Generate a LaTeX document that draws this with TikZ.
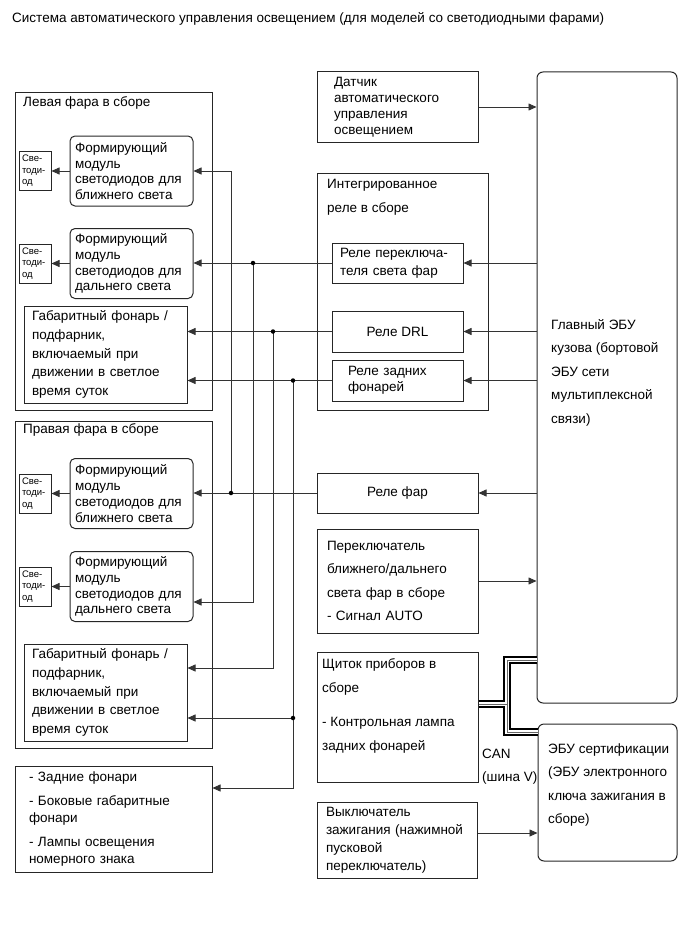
\documentclass[tikz,border=0pt]{standalone}
\usepackage{fontspec}
\setmainfont{Liberation Sans}
\usetikzlibrary{arrows.meta}

\begin{document}
\begin{tikzpicture}[x=1pt,y=-1pt,
  box/.style={draw=black!85,line width=1pt,inner sep=0pt,align=left,font=\fontsize{13.5}{16}\selectfont},
  mod/.style={box,rounded corners=5pt,minimum width=123pt,minimum height=70pt,text width=113pt,font=\fontsize{13.5}{15.8}\selectfont},
  led/.style={box,minimum width=32pt,minimum height=39pt,text width=26pt,font=\fontsize{9.5}{11.5}\selectfont},
  side/.style={box,minimum width=163pt,minimum height=97pt,text width=147pt,font=\fontsize{13.5}{18.7}\selectfont},
  ecu/.style={box,rounded corners=6pt},
  lab/.style={inner sep=0pt,anchor=base west,font=\fontsize{13.5}{16}\selectfont},
  wire/.style={draw=black!80,line width=0.75pt},
  arr/.style={wire,-{Triangle[length=8pt,width=7pt]}},
  jdot/.style={circle,fill=black,inner sep=0pt,minimum size=4.5pt}]
  \useasboundingbox (0,0) rectangle (689,950);
  \node[lab] (title) at (12,23) {Система автоматического управления освещением (для моделей со светодиодными фарами)};
  % ---------- headlamp assemblies ----------
  \node[box,minimum width=197pt,minimum height=318pt] (lhl) at (113.5,251) {};
  \node[lab] (lhlt) at (23,106) {Левая фара в сборе};
  \node[box,minimum width=197pt,minimum height=327pt] (rhl) at (113.5,584.5) {};
  \node[lab] (rhlt) at (23,433) {Правая фара в сборе};
  \foreach \n/\y/\beam in {1/171/ближнего, 2/263.5/дальнего, 3/493.5/ближнего, 4/586.5/дальнего} {
    \node[mod] (mod\n) at (131.5,\y) {Формирующий\\модуль\\светодиодов для\\\beam\ света};
    \node[led] (led\n) at (35,\y) {Све-\\тоди-\\од};
    \draw[arr] (mod\n.west) -- (led\n.east);
  }
  \node[side] (gab1) at (105.5,354.5) {Габаритный фонарь /\\подфарник,\\включаемый при\\движении в светлое\\время суток};
  \node[side] (gab2) at (105.5,692.5) {Габаритный фонарь /\\подфарник,\\включаемый при\\движении в светлое\\время суток};
  \node[box,minimum width=197pt,minimum height=106pt,text width=169pt,font=\fontsize{13.5}{17}\selectfont] (rear) at (113.5,819)
    {- Задние фонари\\[7pt]- Боковые габаритные\\фонари\\[7pt]- Лампы освещения\\номерного знака};
  % ---------- sensor, relays, switches ----------
  \node[box,minimum width=161pt,minimum height=70pt,text width=127pt] (sensor) at (397.5,107) {Датчик\\автоматического\\управления\\освещением};
  \node[box,minimum width=171pt,minimum height=237pt] (integ) at (402.5,291.5) {};
  \node[lab] (integt1) at (327,188) {Интегрированное};
  \node[lab] (integt2) at (327,212) {реле в сборе};
  \node[box,minimum width=131pt,minimum height=40pt,text width=115pt,font=\fontsize{13.5}{18}\selectfont] (relsw) at (397.5,263) {Реле переключа-\\теля света фар};
  \node[box,minimum width=131pt,minimum height=41pt,align=center] (drl) at (397.5,331.5) {Реле DRL};
  \node[box,minimum width=131pt,minimum height=41pt,text width=99pt] (tail) at (397.5,380.5) {Реле задних\\фонарей};
  \node[box,minimum width=161pt,minimum height=40pt,align=center] (hlrel) at (397.5,493) {Реле фар};
  \node[box,minimum width=161pt,minimum height=104pt,text width=141pt,font=\fontsize{13.5}{23.3}\selectfont] (dimmer) at (397.5,581)
    {Переключатель\\ближнего/дальнего\\света фар в сборе\\- Сигнал AUTO};
  \node[box,minimum width=161pt,minimum height=130pt] (meter) at (397.5,717) {};
  \foreach \t/\y [count=\i] in {{Щиток приборов в}/668.6, {сборе}/692, {- Контрольная лампа}/726.6, {задних фонарей}/750}
    \node[lab] (metert\i) at (322,\y) {\t};
  \node[box,minimum width=160pt,minimum height=76pt,text width=142pt,font=\fontsize{13.5}{18}\selectfont] (ign) at (397,840)
    {Выключатель\\зажигания (нажимной\\пусковой\\переключатель)};
  % ---------- ECUs ----------
  \node[ecu,minimum width=140pt,minimum height=631pt] (main) at (607,387.5) {};
  \foreach \t [count=\i] in {{Главный ЭБУ},{кузова (бортовой},{ЭБУ сети},{мультиплексной},{связи)}}
    \node[lab] (maint\i) at (551,{305.8+23.5*\i}) {\t};
  \node[ecu,minimum width=139pt,minimum height=137pt] (cert) at (607.5,792.5) {};
  \foreach \t [count=\i] in {{ЭБУ сертификации},{(ЭБУ электронного},{ключа зажигания в},{сборе)}}
    \node[lab] (certt\i) at (548,{730.3+23.3*\i}) {\t};
  \node[lab] (can1) at (482,758.3) {CAN};
  \node[lab] (can2) at (482,781) {(шина V)};
  % ---------- wiring ----------
  \coordinate (j1) at (253,263);
  \coordinate (j2) at (273,331.5);
  \coordinate (j3) at (293,380.5);
  \coordinate (j4) at (293,718);
  \coordinate (j5) at (231,493);
  \draw[arr] (sensor.east) -- (sensor.east -| main.west);
  \draw[arr] (main.west |- relsw.east) -- (relsw.east);
  \draw[arr] (main.west |- drl.east) -- (drl.east);
  \draw[arr] (main.west |- tail.east) -- (tail.east);
  \draw[arr] (main.west |- hlrel.east) -- (hlrel.east);
  \draw[arr] (dimmer.east) -- (dimmer.east -| main.west);
  \draw[arr] ([yshift=7pt]ign.east) -- ([yshift=7pt]ign.east -| cert.west);
  \draw[arr] (relsw.west) -- (relsw.west -| mod2.east);
  \draw[arr] (j1) |- ([yshift=-15.5pt]mod4.east);
  \draw[arr] (drl.west) -- (drl.west -| gab1.east);
  \draw[arr] (j2) |- ([yshift=24.5pt]gab2.east);
  \draw[arr] (tail.west) -- (tail.west -| gab1.east);
  \draw[arr] (j3) |- ([yshift=31pt]rear.east);
  \draw[arr] (j4) -- (j4 -| gab2.east);
  \draw[arr] (hlrel.west) -- (hlrel.west -| mod3.east);
  \draw[arr] (j5) |- (mod1.east);
  \foreach \j in {j1,j2,j3,j4,j5}
    \node[jdot] (\j d) at (\j) {};
  % ---------- CAN bus (V bus) ----------
  \coordinate (canfork) at (507,704);
  \coordinate (canup) at (507,660);
  \coordinate (candn) at (507,732);
  \foreach \w/\c in {8pt/black, 4.4pt/white, 0.8pt/black!60}
    \draw[line width=\w,draw=\c,shorten <=0.5pt,shorten >=0.5pt]
      (canup -| main.west) -- (canup) -- (candn) -- (candn -| cert.west)
      (canfork -| meter.east) -- (canfork);
\end{tikzpicture}
\end{document}
